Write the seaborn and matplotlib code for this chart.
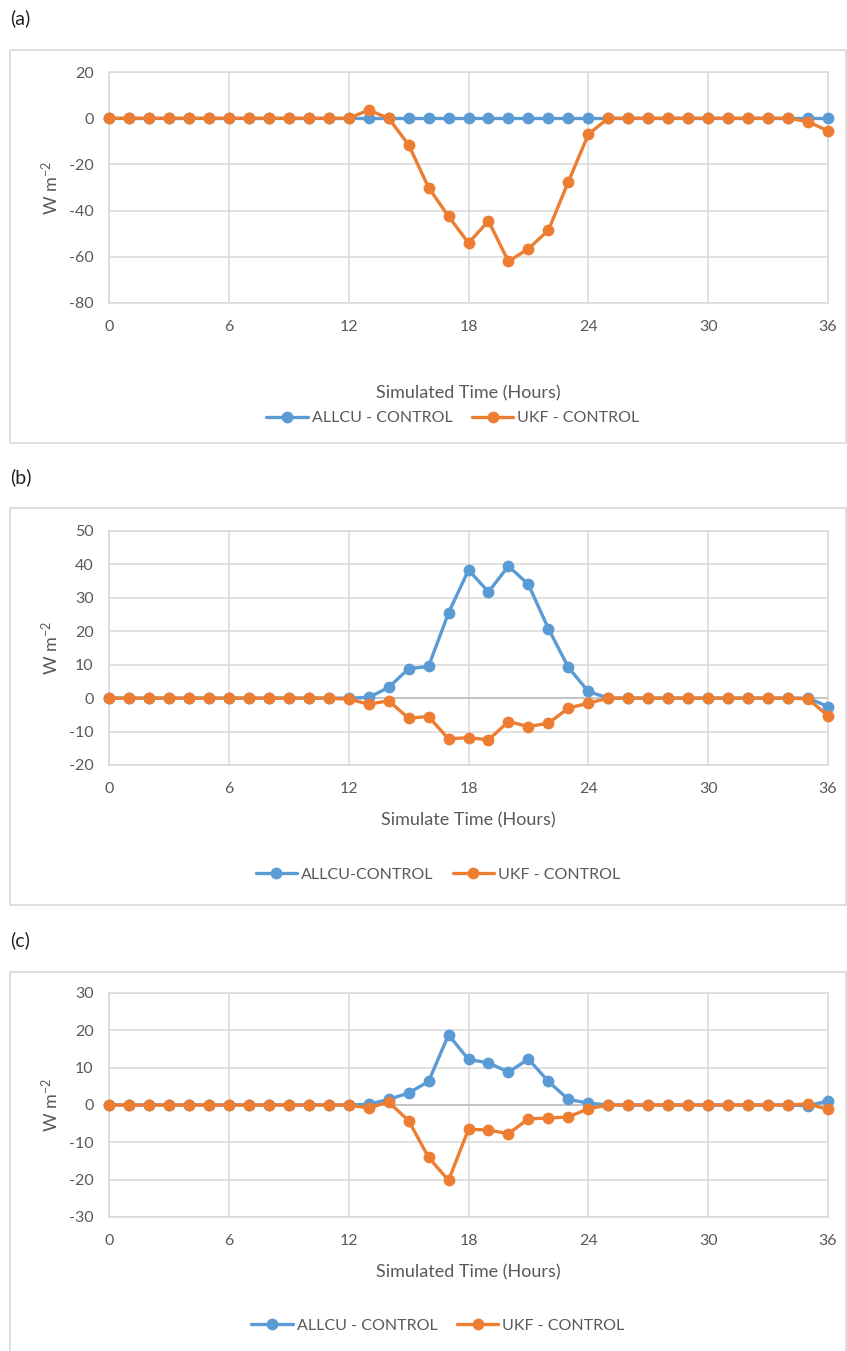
import numpy as np
import pandas as pd
import matplotlib
matplotlib.use("Agg")
import matplotlib.pyplot as plt
import matplotlib.patches as mpatches
import seaborn as sns

hours = [0, 1, 2, 3, 4, 5, 6, 7, 8, 9, 10, 11, 12, 13, 14, 15, 16, 17, 18,
         19, 20, 21, 22, 23, 24, 25, 26, 27, 28, 29, 30, 31, 32, 33, 34, 35, 36]

allcu_a = [0, 0, 0, 0, 0, 0, 0, 0, 0, 0, 0, 0, 0, 0, 0, 0, 0, 0, 0,
           0, 0, 0, 0, 0, 0, 0, 0, 0, 0, 0, 0, 0, 0, 0, 0, 0, 0]
ukf_a = [0, 0, 0, 0, 0, 0, 0, 0, 0, 0, 0, 0, 0, 3.5, 0, -11.5, -30, -42.5, -54,
         -44.5, -62, -56.5, -48.5, -27.5, -7, 0, 0, 0, 0, 0, 0, 0, 0, 0, 0, -1.5, -5.5]

allcu_b = [0, 0, 0, 0, 0, 0, 0, 0, 0, 0, 0, 0, 0, 0.2, 3.2, 8.8, 9.5, 25.5, 38.3,
           31.8, 39.5, 34, 20.8, 9.2, 2, 0, 0, 0, 0, 0, 0, 0, 0, 0, 0, 0, -2.5]
ukf_b = [0, 0, 0, 0, 0, 0, 0, 0, 0, 0, 0, 0, -0.3, -1.8, -0.8, -6, -5.5, -12.2, -11.8,
         -12.5, -7, -8.5, -7.5, -3, -1.5, 0, 0, 0, 0, 0, 0, 0, 0, 0, 0, -0.2, -5.3]

allcu_c = [0, 0, 0, 0, 0, 0, 0, 0, 0, 0, 0, 0, 0, 0.2, 1.5, 3.2, 6.3, 18.8, 12.2,
           11.3, 8.8, 12.3, 6.3, 1.5, 0.5, 0, 0, 0, 0, 0, 0, 0, 0, 0, 0, -0.2, 1.1]
ukf_c = [0, 0, 0, 0, 0, 0, 0, 0, 0, 0, 0, 0, 0, -0.8, 0.8, -4.2, -14, -20.2, -6.5,
         -6.7, -7.7, -3.7, -3.5, -3.2, -1, 0, 0, 0, 0, 0, 0, 0, 0, 0, 0, 0.3, -1.2]

panel_tags = ["(a)", "(b)", "(c)"]
allcu_labels = ["ALLCU - CONTROL", "ALLCU-CONTROL", "ALLCU - CONTROL"]
ukf_label = "UKF - CONTROL"
xlabels = ["Simulated Time (Hours)", "Simulate Time (Hours)", "Simulated Time (Hours)"]
ylabel = "W m$^{-2}$"
xticks = [0, 6, 12, 18, 24, 30, 36]
yticks_list = [[-80, -60, -40, -20, 0, 20],
               [-20, -10, 0, 10, 20, 30, 40, 50],
               [-30, -20, -10, 0, 10, 20, 30]]

sns.set_theme(style="white")
plt.rcParams["font.family"] = ["Lato", "DejaVu Sans"]
plt.rcParams["axes.unicode_minus"] = False
plt.rcParams["mathtext.fontset"] = "custom"
plt.rcParams["mathtext.rm"] = "Lato"
plt.rcParams["mathtext.it"] = "Lato"

BLUE = "#5B9BD5"
ORANGE = "#ED7D31"
GRID = "#D9D9D9"
TXT = "#595959"

W, H = 847, 1351
fig = plt.figure(figsize=(W / 100, H / 100), dpi=100)
fig.patch.set_facecolor("white")

def fx(px):
    return px / W

def fy(py):
    return 1 - py / H

# pixel layout: (axes top, axes bottom, box top, box bottom, tag y, xlabel y, legend y, legend cx)
layout = [
    (72, 303, 50, 443, 18, 393, 418, 453),
    (531, 765, 508, 905, 477, 820, 875, 438),
    (993, 1217, 972, 1360, 940, 1272, 1326, 438),
]
series = [(allcu_a, ukf_a), (allcu_b, ukf_b), (allcu_c, ukf_c)]

for i, (top, bot, btop, bbot, tagy, xly, legy, legcx) in enumerate(layout):
    rect = mpatches.Rectangle((fx(10), fy(bbot)), fx(846) - fx(10), fy(btop) - fy(bbot),
                              transform=fig.transFigure, fill=False,
                              edgecolor=GRID, linewidth=1.2, zorder=0)
    fig.patches.append(rect)
    fig.text(fx(10), fy(tagy), panel_tags[i], fontsize=14, color="#222222",
             ha="left", va="center")

    ax = fig.add_axes([fx(109), fy(bot), fx(828) - fx(109), fy(top) - fy(bot)])
    a_vals, u_vals = series[i]
    df = pd.DataFrame({"hour": hours, "allcu": a_vals, "ukf": u_vals})
    sns.lineplot(data=df, x="hour", y="allcu", ax=ax, color=BLUE, marker="o",
                 markersize=8.5, markeredgewidth=0, linewidth=2.4,
                 label=allcu_labels[i], clip_on=False, zorder=3)
    sns.lineplot(data=df, x="hour", y="ukf", ax=ax, color=ORANGE, marker="o",
                 markersize=8.5, markeredgewidth=0, linewidth=2.4,
                 label=ukf_label, clip_on=False, zorder=4)

    yt = yticks_list[i]
    ax.set_xlim(0, 36)
    ax.set_ylim(yt[0], yt[-1])
    ax.set_xticks(xticks)
    ax.set_yticks(yt)
    ax.grid(True, color=GRID, linewidth=1.1)
    ax.axhline(0, color="#BFBFBF", linewidth=1.2, zorder=1)
    for s in ax.spines.values():
        s.set_color(GRID)
        s.set_linewidth(1.1)
    ax.tick_params(axis="both", length=0, labelsize=11.5, colors=TXT)
    ax.tick_params(axis="x", pad=12)
    ax.tick_params(axis="y", pad=11)

    ax.set_xlabel(xlabels[i], fontsize=13, color=TXT, va="center")
    ax.xaxis.set_label_coords(fx(468), fy(xly), transform=fig.transFigure)
    ax.set_ylabel(ylabel, fontsize=13, color=TXT, va="center")
    ax.yaxis.set_label_coords(fx(50), 0.5 * (fy(top) + fy(bot)), transform=fig.transFigure)

    ax.legend(loc="center", bbox_to_anchor=(fx(legcx), fy(legy)),
              bbox_transform=fig.transFigure, ncol=2, frameon=False,
              fontsize=11.5, labelcolor=TXT, handlelength=2.6,
              handletextpad=0.25, columnspacing=1.2)

fig.savefig("out.png", dpi=100, facecolor="white")
